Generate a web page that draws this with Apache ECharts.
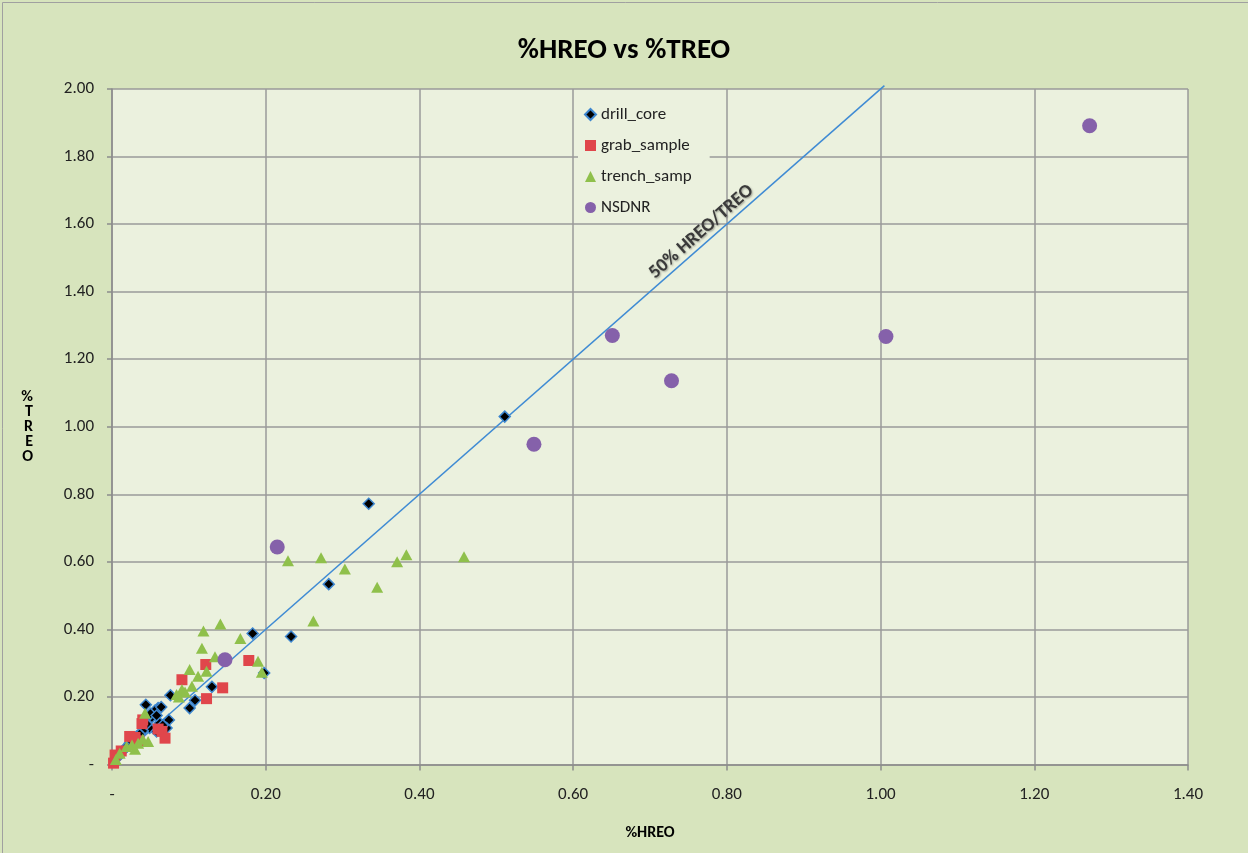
<!DOCTYPE html>
<html>
<head>
<meta charset="utf-8">
<script src="https://cdn.jsdelivr.net/npm/echarts@6/dist/echarts.min.js"></script>
<style>
html,body{margin:0;padding:0;background:#fff;}
#chart{width:1248px;height:853px;}
</style>
</head>
<body>
<div id="chart"></div>
<script>
// ---- data (x = %HREO, y = %TREO) ----
var drillCore = [
  [0.511,1.030],[0.334,0.772],[0.282,0.534],[0.233,0.379],[0.183,0.388],[0.198,0.271],
  [0.130,0.230],[0.076,0.205],[0.108,0.190],[0.101,0.167],[0.044,0.177],[0.060,0.167],
  [0.054,0.152],[0.074,0.132],[0.062,0.123],[0.049,0.108],[0.071,0.108],[0.058,0.098],
  [0.032,0.083],[0.023,0.063],[0.015,0.043],[0.008,0.023],[0.056,0.160],[0.064,0.170],
  [0.052,0.140],[0.040,0.100],[0.028,0.075],[0.019,0.052],[0.010,0.030],[0.045,0.120],
  [0.050,0.150],[0.058,0.145],[0.036,0.090],[0.026,0.068],[0.066,0.116]
];
var grabSample = [
  [0.178,0.308],[0.122,0.296],[0.091,0.251],[0.144,0.227],[0.123,0.195],[0.039,0.121],
  [0.040,0.132],[0.065,0.098],[0.069,0.078],[0.023,0.083],[0.030,0.080],[0.004,0.028],
  [0.002,0.004],[0.060,0.105],[0.012,0.040],[0.035,0.070]
];
var trenchSamp = [
  [0.458,0.615],[0.383,0.621],[0.371,0.600],[0.345,0.525],[0.303,0.579],[0.272,0.612],
  [0.229,0.603],[0.262,0.425],[0.141,0.416],[0.119,0.395],[0.117,0.344],[0.167,0.373],
  [0.190,0.306],[0.195,0.273],[0.134,0.319],[0.101,0.281],[0.123,0.276],[0.112,0.261],
  [0.104,0.232],[0.091,0.222],[0.084,0.207],[0.095,0.215],[0.087,0.200],[0.043,0.152],
  [0.047,0.068],[0.034,0.063],[0.019,0.053],[0.010,0.033],[0.026,0.058],[0.005,0.015],
  [0.040,0.075],[0.030,0.045]
];
var nsdnr = [
  [1.272,1.891],[0.651,1.270],[1.007,1.267],[0.728,1.136],[0.549,0.948],[0.215,0.644],[0.147,0.310]
];
var refLine = [[0,0],[1.005,2.01]];
var refLabel = '50% HREO/TREO';
var refLabelPos = [0.767,1.577];
var xTicks = {min:0, max:1.4, interval:0.2};
var yTicks = {min:0, max:2.0, interval:0.2};

var FONT = 'Carlito, Lato, "Open Sans", sans-serif';
function fmt(v){ return Math.abs(v) < 1e-9 ? '-' : v.toFixed(2); }

var chart = echarts.init(document.getElementById('chart'), null, {renderer:'canvas'});
var option = {
  backgroundColor:'#d7e4bd',
  animation:false,
  title:{
    text:'%HREO vs %TREO', left:'center', top:31,
    textStyle:{fontFamily:FONT, fontSize:29, fontWeight:'bold', color:'#000'}
  },
  grid:{left:112, right:60, top:89, bottom:88.5, show:true, backgroundColor:'#ebf1de', borderWidth:0},
  legend:{
    orient:'vertical', left:578, top:102, itemGap:14, itemWidth:11, itemHeight:11,
    backgroundColor:'#ebf1de', padding:[4,18,6,6],
    textStyle:{fontFamily:FONT, fontSize:17, color:'#222', lineHeight:17},
    data:['drill_core','grab_sample','trench_samp','NSDNR']
  },
  xAxis:{
    type:'value', min:xTicks.min, max:xTicks.max, interval:xTicks.interval,
    name:'%HREO', nameLocation:'middle', nameGap:60,
    nameTextStyle:{fontFamily:FONT, fontSize:16, fontWeight:'bold', color:'#000'},
    axisLine:{show:true, onZero:false, lineStyle:{color:'#8c8c8c', width:1.5}},
    axisTick:{show:true, length:6, lineStyle:{color:'#8c8c8c', width:1.5}},
    axisLabel:{formatter:fmt, margin:22, fontFamily:FONT, fontSize:17, color:'#222'},
    splitLine:{show:true, lineStyle:{color:'#9a9a9a', width:1.5}}
  },
  yAxis:{
    type:'value', min:yTicks.min, max:yTicks.max, interval:yTicks.interval,
    name:'%\nT\nR\nE\nO', nameLocation:'middle', nameRotate:0, nameGap:79,
    nameTextStyle:{fontFamily:FONT, fontSize:16, fontWeight:'bold', color:'#000', lineHeight:15},
    axisLine:{show:true, onZero:false, lineStyle:{color:'#8c8c8c', width:1.5}},
    axisTick:{show:true, length:5, lineStyle:{color:'#8c8c8c', width:1.5}},
    axisLabel:{formatter:fmt, margin:18, fontFamily:FONT, fontSize:17, color:'#222'},
    splitLine:{show:true, lineStyle:{color:'#9a9a9a', width:1.5}}
  },
  series:[
    {name:'50% line', type:'line', data:refLine, symbol:'none', clip:false, z:1,
     lineStyle:{color:'#3f8bd4', width:1.5}, silent:true},
    {name:'drill_core', type:'scatter', data:drillCore, symbol:'diamond', symbolSize:11, z:3,
     itemStyle:{color:'#000', borderColor:'#3d86cf', borderWidth:1.5, opacity:1}},
    {name:'grab_sample', type:'scatter', data:grabSample, symbol:'rect', symbolSize:11, z:4,
     itemStyle:{color:'#e0464b', opacity:1}},
    {name:'trench_samp', type:'scatter', data:trenchSamp, symbol:'triangle', symbolSize:[12,11], z:5,
     itemStyle:{color:'#8fc04b', opacity:1}},
    {name:'NSDNR', type:'scatter', data:nsdnr, symbol:'circle', symbolSize:15, z:6,
     itemStyle:{color:'#8561aa', opacity:1}}
  ],
  graphic:[
    {type:'rect', left:0, top:0, shape:{width:1247, height:852}, style:{fill:'none', stroke:'#a0a0a0', lineWidth:1}, silent:true}
  ]
};
chart.setOption(option);

// place the sloped annotation along the reference line
var p0 = chart.convertToPixel({gridIndex:0}, refLine[0]);
var p1 = chart.convertToPixel({gridIndex:0}, refLine[1]);
var angle = Math.atan2(p0[1]-p1[1], p1[0]-p0[0]);
var pc = chart.convertToPixel({gridIndex:0}, refLabelPos);
chart.setOption({
  graphic:[
    {type:'rect', left:0, top:0, shape:{width:1247, height:852}, style:{fill:'none', stroke:'#a0a0a0', lineWidth:1}, silent:true},
    {type:'text', x:pc[0], y:pc[1], rotation:angle, z:10,
     style:{text:refLabel, fontFamily:FONT, fontSize:19, fontWeight:'bold', fill:'#3a3a3a',
       align:'center', verticalAlign:'middle',
       textShadowColor:'rgba(0,0,0,0.35)', textShadowBlur:2, textShadowOffsetX:1, textShadowOffsetY:1}}
  ]
});
</script>
</body>
</html>
